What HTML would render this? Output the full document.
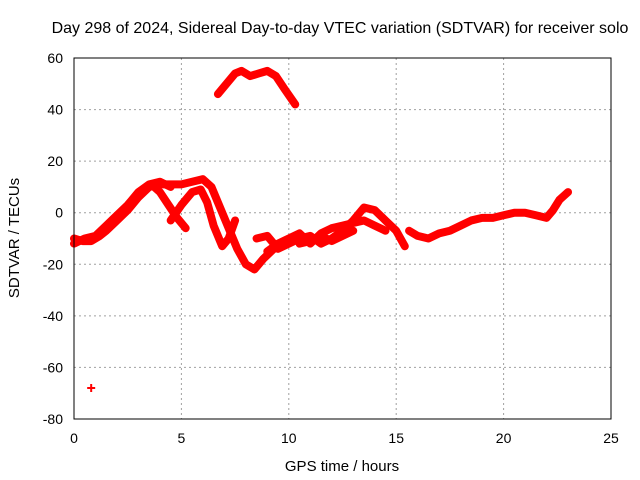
<!DOCTYPE html>
<html><head><meta charset="utf-8"><style>
body{margin:0;background:#fff;}
svg{display:block;font-family:"Liberation Sans",sans-serif;}
</style></head><body>
<svg id="chart" width="640" height="480">
<rect width="640" height="480" fill="#fff"/>
<text x="340" y="33" font-size="16" text-anchor="middle">Day 298 of 2024, Sidereal Day-to-day VTEC variation (SDTVAR) for receiver solo</text>
<text x="342" y="471" font-size="15" text-anchor="middle">GPS time / hours</text>
<text transform="translate(19,238) rotate(-90)" font-size="15" text-anchor="middle">SDTVAR / TECUs</text>
<g id="grid"></g><g id="ticks"></g><g id="marks"></g>
<rect x="74" y="58" width="537" height="361" fill="none" stroke="#000" stroke-width="1"/>
</svg>
<script>
const xTicks=[0,5,10,15,20,25];
const yTicks=[60,40,20,0,-20,-40,-60,-80];
const s1=[[0,-10],[0.4,-11],[0.8,-11],[1.2,-9],[1.5,-7],[2,-3],[2.5,1],[3,6],[3.5,10],[4,11],[4.5,11],[5,11],[5.5,12],[6,13],[6.4,10],[6.8,2],[7.2,-6],[7.6,-14],[8,-20],[8.4,-22],[8.8,-18],[9.3,-14],[9.6,-13]];
const s1b=[[0,-12],[0.5,-10],[1,-9],[1.5,-5],[2,-1],[2.5,3],[3,8],[3.5,11],[4,12],[4.5,10]];
const s2=[[3.6,11],[4,8],[4.4,3],[4.8,-2],[5.2,-6]];
const s3=[[4.5,-3],[5,3],[5.5,8],[5.9,9],[6.2,4],[6.5,-5],[6.9,-13],[7.2,-10],[7.5,-3]];
const s4=[[8.5,-10],[9,-9],[9.5,-14],[10,-12],[10.5,-10],[11,-9],[11.5,-12],[12,-10],[12.5,-7],[13,-3],[13.5,2],[14,1],[14.5,-3],[15,-7],[15.4,-13]];
const s5=[[9,-15],[9.5,-12],[10,-10],[10.5,-8],[11,-12],[11.5,-8],[12,-6],[12.5,-5],[13,-4],[13.5,-3],[14,-5],[14.5,-7]];
const s5b=[[10.5,-12],[11,-11],[11.5,-9],[12,-11],[12.5,-9],[13,-7]];
const s6=[[15.6,-7],[16,-9],[16.5,-10],[17,-8],[17.5,-7],[18,-5],[18.5,-3],[19,-2],[19.5,-2],[20,-1],[20.5,0],[21,0],[21.5,-1],[22,-2],[22.3,1],[22.6,5],[23,8]];
const s7=[[6.7,46],[7,49],[7.5,54],[7.8,55],[8.2,53],[8.6,54],[9,55],[9.4,53],[9.8,48],[10.3,42]];
const outlier=[[0.8,-68]];
const seriesList=[s1,s1b,s2,s3,s4,s5,s5b,s6,s7];
const X=v=>74+v*(537/25);
const Y=v=>58+(60-v)*(361/140);
const NS="http://www.w3.org/2000/svg";
const grid=document.getElementById('grid'),ticks=document.getElementById('ticks'),marks=document.getElementById('marks');
function mk(tag,attrs,parent){const e=document.createElementNS(NS,tag);for(const k in attrs)e.setAttribute(k,attrs[k]);parent.appendChild(e);return e;}
xTicks.forEach(t=>{
 if(t>0&&t<25){const g=mk('line',{x1:X(t),x2:X(t),y1:58,y2:419,stroke:'#a0a0a0','stroke-dasharray':'2,3'},grid);
 
 }
 const tl=mk('text',{x:X(t),y:443,'font-size':14,'text-anchor':'middle'},ticks);tl.textContent=t;
 
 
});
yTicks.forEach(t=>{
 if(t<60&&t>-80){const g=mk('line',{x1:74,x2:611,y1:Y(t),y2:Y(t),stroke:'#a0a0a0','stroke-dasharray':'2,3'},grid);
 
 }
 const tl=mk('text',{x:63,y:Y(t)+5,'font-size':14,'text-anchor':'end'},ticks);tl.textContent=t;
 
 
});
seriesList.forEach(s=>{
 const p=mk('polyline',{points:s.map(d=>X(d[0])+','+Y(d[1])).join(' '),fill:'none',stroke:'#ff0000','stroke-width':8,'stroke-linejoin':'round','stroke-linecap':'round'},marks);
 
 
});
outlier.forEach(d=>{
 const p=mk('path',{d:`M${X(d[0])-4},${Y(d[1])}h8M${X(d[0])},${Y(d[1])-4}v8`,stroke:'#ff0000','stroke-width':2},marks);
 
 
});
</script>
</body></html>
